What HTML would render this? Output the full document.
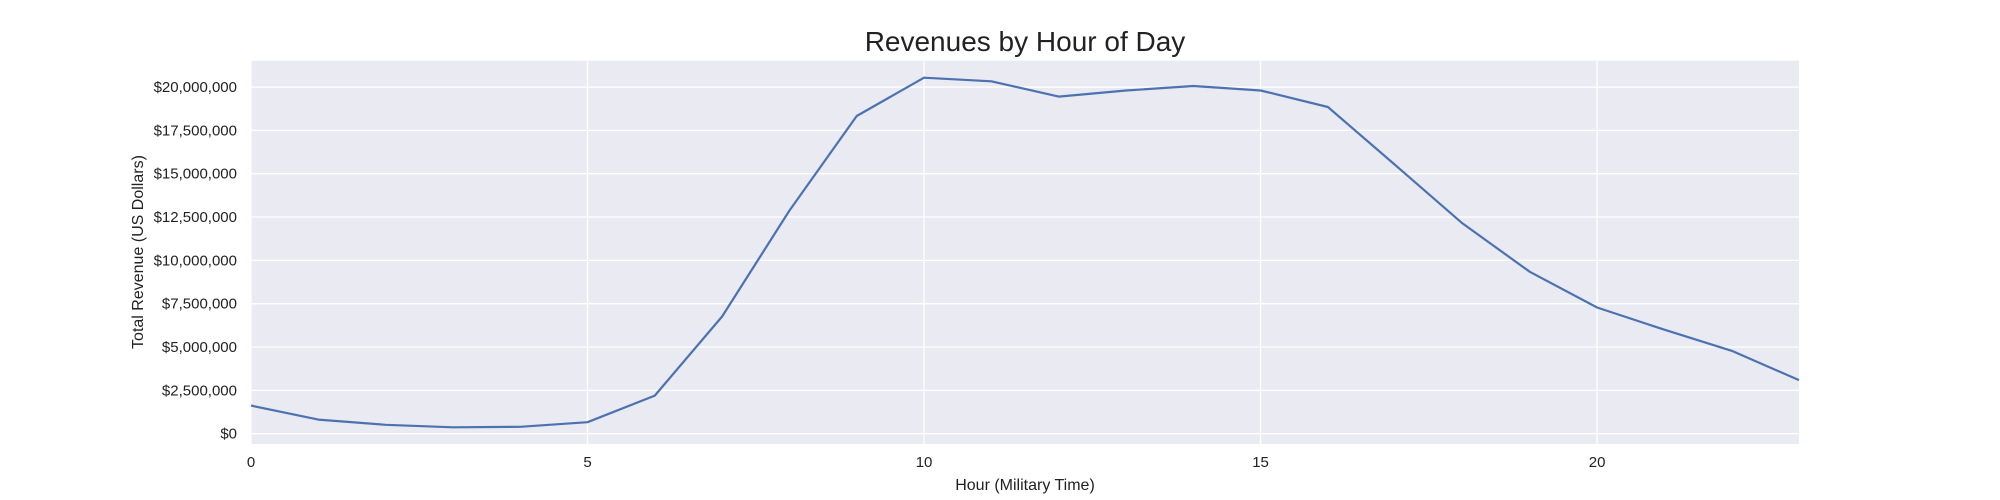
<!DOCTYPE html>
<html><head><meta charset="utf-8"><style>
html,body{margin:0;padding:0;background:#fff;}
svg{display:block;font-family:"Liberation Sans",Arial,sans-serif;}
</style></head><body>
<svg id="chart" width="2000" height="500">
<rect x="251" y="60.7" width="1548" height="383.3" fill="#eaeaf2"/>
<g id="grid"></g>
<g id="ticks"></g>
<path id="line" fill="none" stroke="#4c72b0" stroke-width="2.2" stroke-linejoin="round"/>
<text x="1025" y="51" font-size="28" fill="#222" text-anchor="middle">Revenues by Hour of Day</text>
<text x="1025" y="490" font-size="16" fill="#222" text-anchor="middle">Hour (Military Time)</text>
<text x="143" y="252" font-size="16" fill="#222" text-anchor="middle" transform="rotate(-90 143 252)">Total Revenue (US Dollars)</text>
</svg>
<script>
const hours = [0,1,2,3,4,5,6,7,8,9,10,11,12,13,14,15,16,17,18,19,20,21,22,23];
const revenues = [1.62,0.81,0.51,0.37,0.40,0.66,2.2,6.76,12.87,18.33,20.54,20.33,19.45,19.8,20.06,19.8,18.85,15.5,12.13,9.34,7.28,6.0,4.78,3.09];
const xTicks = [0,5,10,15,20];
const yTicks = [0,2.5,5,7.5,10,12.5,15,17.5,20];
const yTickLabels = ["$0","$2,500,000","$5,000,000","$7,500,000","$10,000,000","$12,500,000","$15,000,000","$17,500,000","$20,000,000"];

const X0=251,X1=1799,Y0=444,Y1=60.7;
const xMin=0,xMax=23,yMin=-0.595,yMax=21.52;
function xs(v){return X0+(v-xMin)/(xMax-xMin)*(X1-X0);}
function ys(v){return Y0-(v-yMin)/(yMax-yMin)*(Y0-Y1);}
const NS="http://www.w3.org/2000/svg";
const grid=document.getElementById('grid'), ticks=document.getElementById('ticks');
yTicks.forEach((t,i)=>{
  const l=document.createElementNS(NS,'line');
  l.setAttribute('x1',X0);l.setAttribute('x2',X1);l.setAttribute('y1',ys(t));l.setAttribute('y2',ys(t));
  l.setAttribute('stroke','#fff');l.setAttribute('stroke-width','1.3');
  
  
  grid.appendChild(l);
  const tx=document.createElementNS(NS,'text');
  tx.setAttribute('x',X0-14);tx.setAttribute('y',ys(t)+5);tx.setAttribute('text-anchor','end');
  tx.setAttribute('font-size','15');tx.setAttribute('fill','#222');
  tx.textContent=yTickLabels[i];
  
  
  ticks.appendChild(tx);
});
xTicks.forEach(t=>{
  const l=document.createElementNS(NS,'line');
  l.setAttribute('x1',xs(t));l.setAttribute('x2',xs(t));l.setAttribute('y1',Y1);l.setAttribute('y2',Y0);
  l.setAttribute('stroke','#fff');l.setAttribute('stroke-width','1.3');
  
  
  grid.appendChild(l);
  const tx=document.createElementNS(NS,'text');
  tx.setAttribute('x',xs(t));tx.setAttribute('y',Y0+23);tx.setAttribute('text-anchor','middle');
  tx.setAttribute('font-size','15');tx.setAttribute('fill','#222');
  tx.textContent=String(t);
  
  
  ticks.appendChild(tx);
});
document.getElementById('line').setAttribute('d',hours.map((h,i)=>(i?'L':'M')+xs(h).toFixed(1)+','+ys(revenues[i]).toFixed(1)).join(' '));
</script>
</body></html>
